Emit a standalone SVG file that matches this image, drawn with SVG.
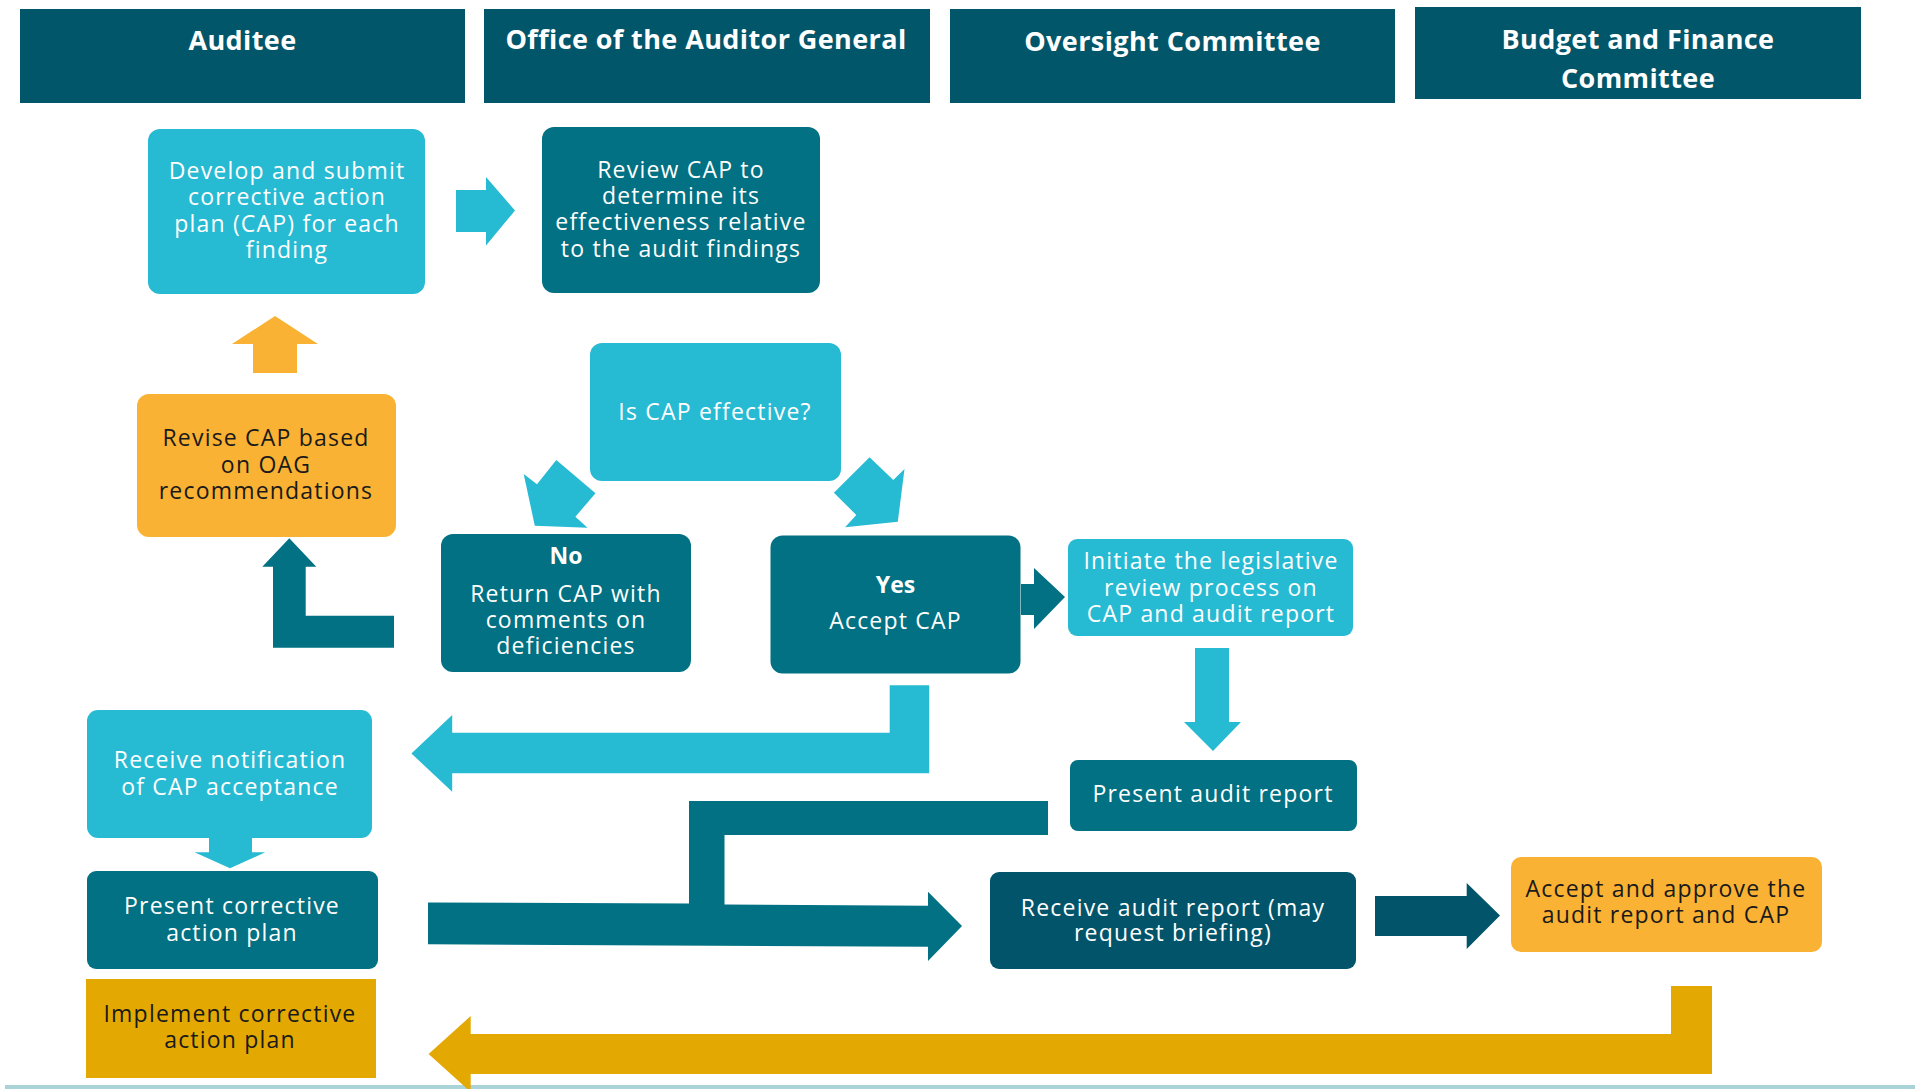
<svg xmlns="http://www.w3.org/2000/svg" width="1915" height="1089" viewBox="0 0 1915 1089">
<style>
.hdr{fill:#02566A}
.ht{font-family:"Open Sans","Liberation Sans",sans-serif;font-weight:700;font-size:27px;letter-spacing:0.4px;fill:#ffffff;text-anchor:middle}
.cy{fill:#27BAD3}
.tl{fill:#017183}
.dk{fill:#01546A}
.or{fill:#F9B233}
.gd{fill:#E3A902}
.nt{font-family:"Open Sans","Liberation Sans",sans-serif;font-size:23px;letter-spacing:1.2px;fill:#ffffff;text-anchor:middle}
.dt{font-family:"Open Sans","Liberation Sans",sans-serif;font-size:23px;letter-spacing:1.2px;fill:#1a1a1a;text-anchor:middle}
.b{font-weight:700;letter-spacing:0}
</style>
<rect width="1915" height="1089" fill="#ffffff"/>
<g id="lanes">
<g id="lane-auditee"><rect class="hdr" x="20" y="9" width="445" height="94"/><text class="ht" x="242.5" y="50">Auditee</text></g>
<g id="lane-oag"><rect class="hdr" x="484" y="9" width="446" height="94"/><text class="ht" x="706" y="48.5">Office of the Auditor General</text></g>
<g id="lane-oversight"><rect class="hdr" x="950" y="9" width="445" height="94"/><text class="ht" x="1172.5" y="51">Oversight Committee</text></g>
<g id="lane-budget"><rect class="hdr" x="1415" y="7" width="446" height="92"/><text class="ht" x="1638" y="48.5">Budget and Finance</text><text class="ht" x="1638" y="88">Committee</text></g>
</g>
<rect id="baseline" x="5" y="1085" width="1910" height="4" fill="#A9D3D6"/>
<g id="connectors">
<polygon class="cy" points="456,190 486,190 486,177 515,210.5 486,245.5 486,232 456,232"/>
<polygon class="or" points="253,373 253,344 232,344 275,316 318,344 297,344 297,373"/>
<polygon class="cy" points="523.7,474 537,484.3 556.3,460 595.5,493.3 575.4,516.7 587.5,527.7 534.8,525.7"/>
<polygon class="cy" points="869.6,457.3 893.3,480 904.5,469 897.8,521.7 845.1,527.3 856.3,515 833.9,492.7"/>
<polygon class="tl" points="394,615.7 394,647.7 273,647.7 273,566.7 262.3,566.7 289.3,538.3 316.3,566.7 305.7,566.7 305.7,615.7"/>
<polygon class="tl" points="1021,584 1034,584 1034,568 1065,597 1034,629 1034,615 1021,615"/>
<polygon class="cy" points="1195,648 1229,648 1229,722 1241,722 1213,751 1184,722 1195,722"/>
<polygon class="cy" points="929.2,685.3 929.2,773.3 452.2,773.3 452.2,791.7 411.4,753.5 452.2,715 452.2,732.7 889.7,732.7 889.7,685.3"/>
<polygon class="cy" points="209,837 252,837 252,852.3 265.3,852.3 230,868.3 194.5,852.3 209,852.3"/>
<polygon class="tl" points="428,902.5 689,903.5 689,801 1048,801 1048,835 724.5,835 724.5,904.5 928,905.7 928,891.7 962,926 928,961 928,946.7 428,944.3"/>
<polygon class="dk" points="1375,896 1466.7,896 1466.7,883 1500,915.5 1466.7,949 1466.7,936 1375,936"/>
<polygon class="gd" points="1712,986 1712,1074 470.7,1074 470.7,1092 428.6,1054 470.7,1016 470.7,1034 1671,1034 1671,986"/>
</g>
<g id="node-develop"><rect class="cy" x="148" y="129" width="277" height="165" rx="12"/>
<text class="nt" x="287" y="179">Develop and submit</text><text class="nt" x="287" y="205">corrective action</text><text class="nt" x="287" y="231.5">plan (CAP) for each</text><text class="nt" x="287" y="258">finding</text></g>
<g id="node-review"><rect class="tl" x="542" y="127" width="278" height="166" rx="12"/>
<text class="nt" x="681" y="178">Review CAP to</text><text class="nt" x="681" y="204">determine its</text><text class="nt" x="681" y="230">effectiveness relative</text><text class="nt" x="681" y="256.5">to the audit findings</text></g>
<g id="node-decision"><rect class="cy" x="590" y="343" width="251" height="138" rx="12"/>
<text class="nt" x="715" y="420">Is CAP effective?</text></g>
<g id="node-revise"><rect class="or" x="137" y="394" width="259" height="143" rx="12"/>
<text class="dt" x="266" y="446">Revise CAP based</text><text class="dt" x="266" y="472.5">on OAG</text><text class="dt" x="266" y="498.5">recommendations</text></g>
<g id="node-no"><rect class="tl" x="441" y="534" width="250" height="138" rx="12"/>
<text class="nt b" x="566" y="564">No</text><text class="nt" x="566" y="601.5">Return CAP with</text><text class="nt" x="566" y="627.5">comments on</text><text class="nt" x="566" y="654">deficiencies</text></g>
<g id="node-yes"><rect class="tl" x="770.5" y="535.5" width="250" height="138" rx="12"/>
<text class="nt b" x="895.5" y="593">Yes</text><text class="nt" x="895.5" y="629">Accept CAP</text></g>
<g id="node-initiate"><rect class="cy" x="1068" y="539" width="285" height="97" rx="9"/>
<text class="nt" x="1211" y="569">Initiate the legislative</text><text class="nt" x="1211" y="595.5">review process on</text><text class="nt" x="1211" y="622">CAP and audit report</text></g>
<g id="node-present-report"><rect class="tl" x="1070" y="760" width="287" height="71" rx="8"/>
<text class="nt" x="1213" y="802">Present audit report</text></g>
<g id="node-receive-report"><rect class="dk" x="990" y="872" width="366" height="97" rx="9"/>
<text class="nt" x="1173" y="915.5">Receive audit report (may</text><text class="nt" x="1173" y="941">request briefing)</text></g>
<g id="node-accept"><rect class="or" x="1511" y="857" width="311" height="95" rx="10"/>
<text class="dt" x="1666" y="897">Accept and approve the</text><text class="dt" x="1666" y="923">audit report and CAP</text></g>
<g id="node-notification"><rect class="cy" x="87" y="710" width="285" height="128" rx="11"/>
<text class="nt" x="230" y="768">Receive notification</text><text class="nt" x="230" y="795">of CAP acceptance</text></g>
<g id="node-present-cap"><rect class="tl" x="87" y="871" width="291" height="98" rx="9"/>
<text class="nt" x="232" y="914">Present corrective</text><text class="nt" x="232" y="940.5">action plan</text></g>
<g id="node-implement"><rect class="gd" x="86" y="979" width="290" height="99"/>
<text class="dt" x="230" y="1021.5">Implement corrective</text><text class="dt" x="230" y="1048">action plan</text></g>
</svg>
